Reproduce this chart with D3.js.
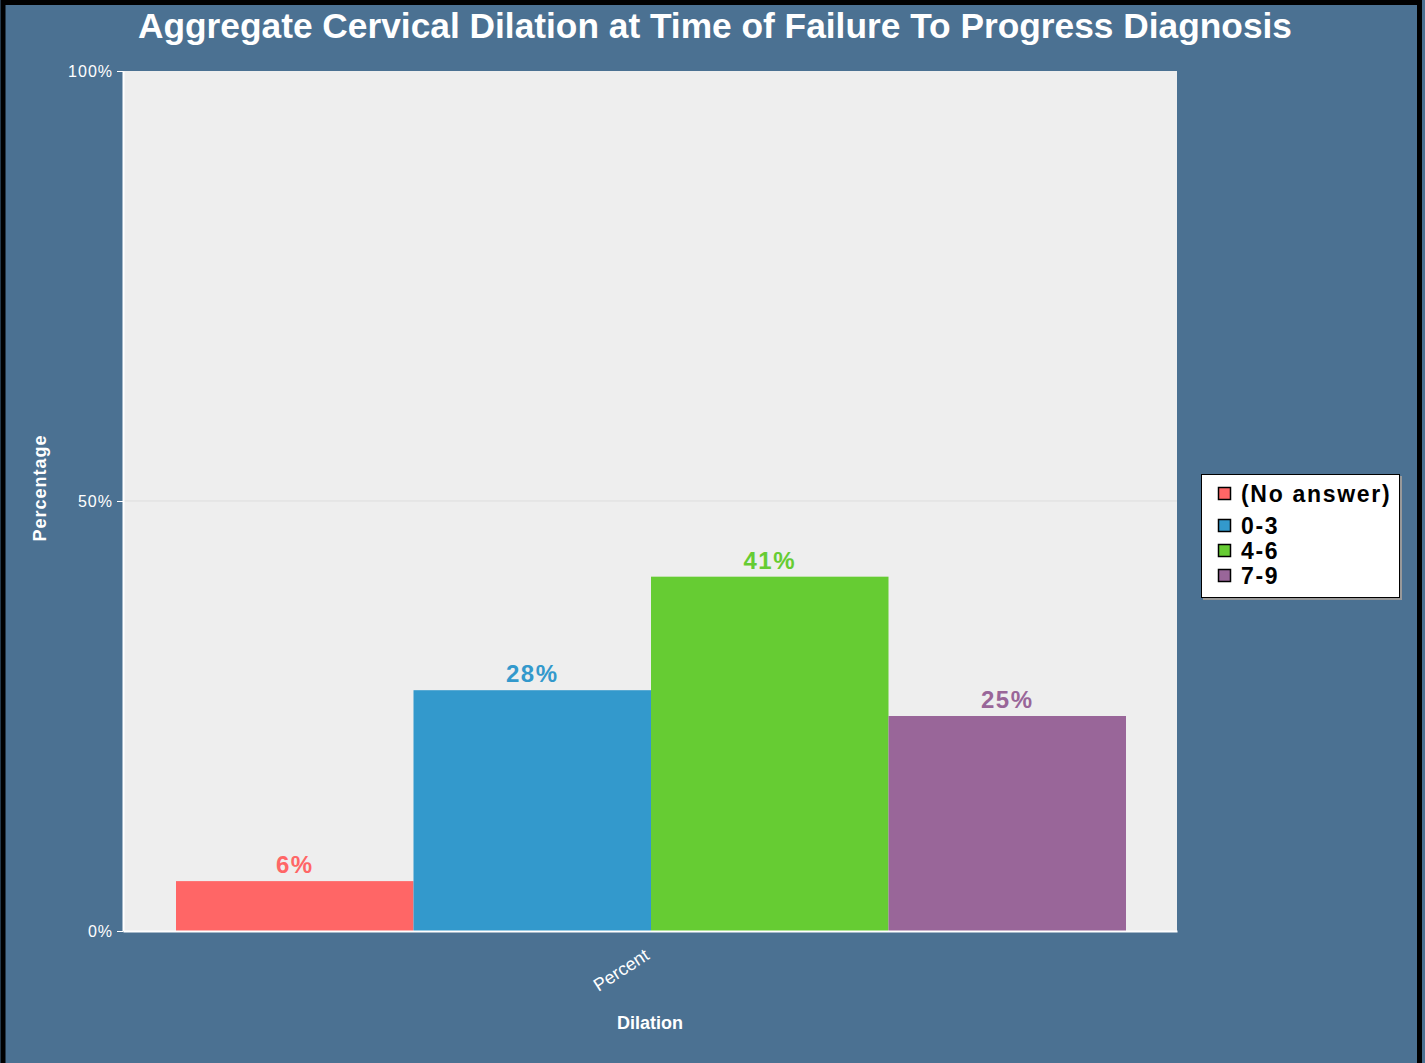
<!DOCTYPE html>
<html>
<head>
<meta charset="utf-8">
<script src="https://cdn.jsdelivr.net/npm/d3@7"></script>
<style>
  body { margin: 0; background: #4b7192; }
  text { font-family: 'Liberation Sans', Arial, sans-serif; }
</style>
</head>
<body>
<div id="chart"></div>
<script>
const categories = ['(No answer)', '0-3', '4-6', '7-9'];
const values = [5.8, 28.0, 41.2, 25.0];
const valueLabels = ['6%', '28%', '41%', '25%'];
const colors = ['#ff6666', '#3399cc', '#66cc33', '#996699'];
const yTicks = [0, 50, 100];
const xGroups = ['Percent'];

const width = 1425;
const height = 1063;
const plot = { left: 123, top: 71, right: 1177, bottom: 931 };

const svg = d3.select('#chart').append('svg')
  .attr('width', width)
  .attr('height', height);

// background + frame
svg.append('rect')
  .attr('x', 0).attr('y', 0)
  .attr('width', width).attr('height', height)
  .style('fill', '#4b7192');

svg.append('path')
  .attr('d', `M3,${height} V2.5 H1419.5 V${height}`)
  .style('fill', 'none')
  .style('stroke', '#000')
  .style('stroke-width', 5);

svg.append('text')
  .attr('x', 715)
  .attr('y', 38)
  .style('text-anchor', 'middle')
  .style('font-size', '35.3px')
  .style('font-weight', 'bold')
  .style('fill', '#fff')
  .text('Aggregate Cervical Dilation at Time of Failure To Progress Diagnosis');

svg.append('rect')
  .attr('x', plot.left).attr('y', plot.top)
  .attr('width', plot.right - plot.left)
  .attr('height', plot.bottom - plot.top)
  .style('fill', '#eeeeee');

const yScale = d3.scaleLinear()
  .domain([0, 100])
  .range([plot.bottom, plot.top]);

const xOuter = d3.scaleBand()
  .domain(xGroups)
  .range([plot.left, plot.right])
  .paddingOuter(0.05)
  .paddingInner(0);

const xInner = d3.scaleBand()
  .domain(categories)
  .range([176, 1126]);

// grid line at 50%
svg.append('line')
  .attr('x1', plot.left).attr('x2', plot.right)
  .attr('y1', yScale(50)).attr('y2', yScale(50))
  .style('stroke', '#dddddd')
  .style('stroke-width', 1);

const yAxis = d3.axisLeft(yScale)
  .tickValues(yTicks)
  .tickFormat(d => d + '%')
  .tickSizeInner(6)
  .tickSizeOuter(0);

const yG = svg.append('g')
  .attr('transform', `translate(${plot.left},0)`)
  .call(yAxis);

yG.select('.domain').style('stroke', '#fff').style('stroke-width', 2);
yG.selectAll('.tick line').style('stroke', '#fff');
yG.selectAll('.tick text')
  .attr('x', -10)
  .attr('dy', '0.32em')
  .style('fill', '#fff')
  .style('font-size', '16px')
  .style('letter-spacing', '1px')
  .style('font-family', "'Liberation Sans', Arial, sans-serif");

// bars
svg.append('g')
  .selectAll('rect')
  .data(values)
  .join('rect')
  .attr('x', (d, i) => xInner(categories[i]))
  .attr('y', d => yScale(d))
  .attr('width', xInner.bandwidth())
  .attr('height', d => yScale(0) - yScale(d))
  .style('fill', (d, i) => colors[i]);

svg.append('g')
  .selectAll('text')
  .data(values)
  .join('text')
  .attr('x', (d, i) => xInner(categories[i]) + xInner.bandwidth() / 2)
  .attr('y', d => yScale(d) - 8)
  .style('text-anchor', 'middle')
  .style('font-size', '24px')
  .style('letter-spacing', '1.5px')
  .style('font-weight', 'bold')
  .style('fill', (d, i) => colors[i])
  .text((d, i) => valueLabels[i]);

// x axis
const xAxis = d3.axisBottom(xOuter)
  .tickSize(0)
  .tickSizeOuter(0);

const xG = svg.append('g')
  .attr('transform', `translate(0,${plot.bottom})`)
  .call(xAxis);

xG.select('.domain').style('stroke', '#fff').style('stroke-width', 2);
xG.selectAll('.tick text')
  .attr('transform', 'translate(-3,22) rotate(-33)')
  .attr('y', 0)
  .attr('dy', '0.35em')
  .style('text-anchor', 'end')
  .style('fill', '#fff')
  .style('font-size', '18px')
  .style('font-family', "'Liberation Sans', Arial, sans-serif");

svg.append('text')
  .attr('x', 650)
  .attr('y', 1029)
  .style('text-anchor', 'middle')
  .style('font-size', '18px')
  .style('font-weight', 'bold')
  .style('fill', '#fff')
  .text('Dilation');

svg.append('text')
  .attr('transform', 'translate(46,488) rotate(-90)')
  .style('text-anchor', 'middle')
  .style('font-size', '18px')
  .style('letter-spacing', '1px')
  .style('font-weight', 'bold')
  .style('fill', '#fff')
  .text('Percentage');

// legend
const legend = svg.append('g')
  .attr('transform', 'translate(1201,474)');

legend.append('rect')
  .attr('x', 2).attr('y', 2)
  .attr('width', 199).attr('height', 124)
  .style('fill', '#999');

legend.append('rect')
  .attr('x', 0.5).attr('y', 0.5)
  .attr('width', 198).attr('height', 123)
  .style('fill', '#fff')
  .style('stroke', '#000')
  .style('stroke-width', 1);

const rowY = [20, 52, 77, 102];

const items = legend.selectAll('g.item')
  .data(categories)
  .join('g')
  .attr('class', 'item')
  .attr('transform', (d, i) => `translate(17,${rowY[i]})`);

items.append('rect')
  .attr('x', 0.5).attr('y', -6.5)
  .attr('width', 12).attr('height', 12)
  .style('fill', (d, i) => colors[i])
  .style('stroke', '#000')
  .style('stroke-width', 1.5);

items.append('text')
  .attr('x', 23)
  .attr('y', 0)
  .attr('dy', '0.36em')
  .style('font-size', '23px')
  .style('letter-spacing', '1.7px')
  .style('font-weight', 'bold')
  .style('fill', '#000')
  .text(d => d);
</script>
</body>
</html>
